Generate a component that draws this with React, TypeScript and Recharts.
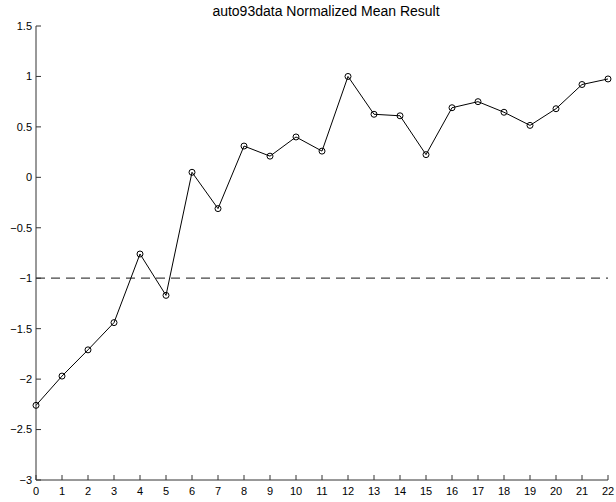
import React from "react";
import { LineChart, Line, XAxis, YAxis, ReferenceLine } from "recharts";

// Iteration index along the x axis
const steps = [0, 1, 2, 3, 4, 5, 6, 7, 8, 9, 10, 11, 12, 13, 14, 15, 16, 17, 18, 19, 20, 21, 22];

// Normalized mean result per iteration
const normalizedMean = [
  -2.26, -1.97, -1.71, -1.44, -0.76, -1.17, 0.05, -0.31, 0.31, 0.21, 0.4, 0.26,
  1.0, 0.625, 0.61, 0.225, 0.69, 0.75, 0.645, 0.515, 0.68, 0.92, 0.975,
];

// Horizontal reference level
const baselineLevel = -1;

const xTicks = steps;
const yTicks = [-3, -2.5, -2, -1.5, -1, -0.5, 0, 0.5, 1, 1.5];

const chartTitle = "auto93data Normalized Mean Result";

const data = steps.map((s, i) => ({ step: s, mean: normalizedMean[i] }));

const FONT = "'Liberation Sans', Arial, Helvetica, sans-serif";
const AXIS_COLOR = "#333";
const TICK_LEN = 5;
const Y_MARGIN = 4;
const X_MARGIN = 7;

const fmt = (v: number) => (v < 0 ? "\u2212" + String(Math.abs(v)) : String(v));

const YTick = (props: any) => {
  const { x, y, payload } = props;
  const axisX = x + Y_MARGIN;
  return (
    <g>
      <line x1={axisX} x2={axisX + TICK_LEN} y1={y} y2={y} stroke={AXIS_COLOR} strokeWidth={1} />
      <text x={x} y={y} dy="0.355em" textAnchor="end" fontSize={11} fontFamily={FONT} fill="#000">
        {fmt(payload.value)}
      </text>
    </g>
  );
};

const XTick = (props: any) => {
  const { x, y, payload } = props;
  const axisY = y - X_MARGIN;
  return (
    <g>
      <line x1={x} x2={x} y1={axisY} y2={axisY - TICK_LEN} stroke={AXIS_COLOR} strokeWidth={1} />
      <text x={x} y={y} dy="0.71em" textAnchor="middle" fontSize={11} fontFamily={FONT} fill="#000">
        {fmt(payload.value)}
      </text>
    </g>
  );
};

export default function App() {
  return (
    <div style={{ position: "absolute", left: 0, top: 0, width: 616, height: 502, background: "#fff" }}>
      <div
        style={{
          position: "absolute",
          left: 40,
          width: 572,
          top: 3,
          textAlign: "center",
          fontFamily: FONT,
          fontSize: 14,
          lineHeight: "16px",
          color: "#000",
        }}
      >
        {chartTitle}
      </div>
      <LineChart
        width={616}
        height={502}
        data={data}
        margin={{ top: 26, right: 8, bottom: 0, left: 0 }}
      >
        <XAxis
          dataKey="step"
          type="number"
          domain={[0, 22]}
          ticks={xTicks}
          interval={0}
          height={22}
          tickSize={0}
          tickMargin={X_MARGIN}
          tickLine={false}
          axisLine={{ stroke: AXIS_COLOR, strokeWidth: 1 }}
          tick={<XTick />}
        />
        <YAxis
          type="number"
          domain={[-3, 1.5]}
          ticks={yTicks}
          interval={0}
          width={36}
          tickSize={0}
          tickMargin={Y_MARGIN}
          tickLine={false}
          axisLine={{ stroke: AXIS_COLOR, strokeWidth: 1 }}
          tick={<YTick />}
          allowDataOverflow
        />
        <ReferenceLine
          y={baselineLevel}
          stroke="#444"
          strokeWidth={1.2}
          strokeDasharray="9 6"
          ifOverflow="extendDomain"
        />
        <Line
          type="linear"
          dataKey="mean"
          stroke="#000"
          strokeWidth={1}
          dot={{ r: 3, fill: "none", stroke: "#000", strokeWidth: 1 }}
          isAnimationActive={false}
        />
      </LineChart>
    </div>
  );
}
